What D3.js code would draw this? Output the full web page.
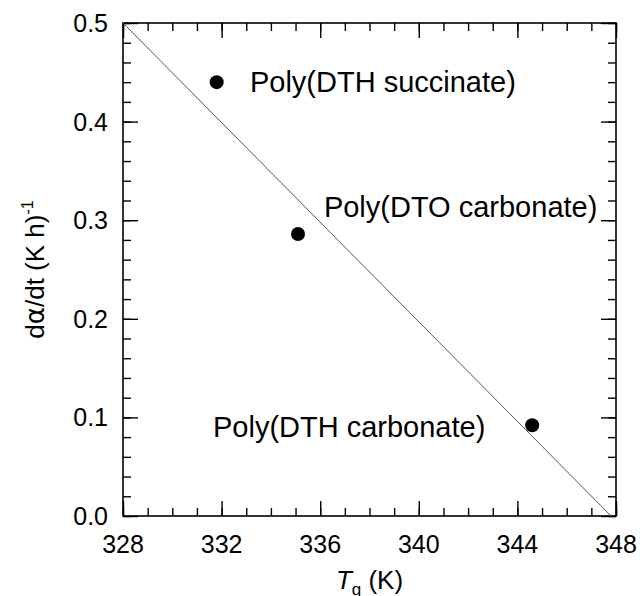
<!DOCTYPE html>
<html>
<head>
<meta charset="utf-8">
<script src="https://cdn.jsdelivr.net/npm/d3@7"></script>
<style>
  html, body { margin: 0; padding: 0; background: #fff; }
  svg { display: block; font-family: "Liberation Sans", Arial, Helvetica, sans-serif; }
</style>
</head>
<body>
<svg id="chart" width="640" height="596"></svg>
<script>
// Measured glass-transition temperatures and ageing rates
const polymers = ["Poly(DTH succinate)", "Poly(DTO carbonate)", "Poly(DTH carbonate)"];
const tg = [331.8, 335.1, 344.6];
const rate = [0.44, 0.286, 0.092];

// Linear trend line end points
const fitTg = [328, 347.8];
const fitRate = [0.5, 0.0];

// Axis ticks
const xMajor = [328, 332, 336, 340, 344, 348];
const xMinor = d3.range(328, 348.5, 1);
const yMajor = [0.0, 0.1, 0.2, 0.3, 0.4, 0.5];
const yMinor = d3.range(0, 0.501, 0.02);

// Label anchors for each polymer (left end of the text baseline, in data units)
const labelTg = [333.15, 336.15, 331.65];
const labelRate = [0.43, 0.303, 0.08];

const svg = d3.select("#chart");
const m = { left: 123, right: 616, top: 23, bottom: 516 };

const x = d3.scaleLinear().domain([328, 348]).range([m.left, m.right]);
const y = d3.scaleLinear().domain([0, 0.5]).range([m.bottom, m.top]);

const majorLen = 15, minorLen = 8;
const axisColor = "#000";

// Tick marks on all four sides, pointing inwards
function ticks(axisGen, transform, values, len) {
  svg.append("g")
    .attr("transform", transform)
    .call(axisGen.tickValues(values).tickSize(len).tickFormat(""))
    .call(g => g.select(".domain").remove())
    .call(g => g.selectAll("line").attr("stroke", axisColor).attr("stroke-width", 1.4));
}
ticks(d3.axisTop(x), `translate(0,${m.bottom})`, xMinor, minorLen);
ticks(d3.axisTop(x), `translate(0,${m.bottom})`, xMajor, majorLen);
ticks(d3.axisBottom(x), `translate(0,${m.top})`, xMinor, minorLen);
ticks(d3.axisBottom(x), `translate(0,${m.top})`, xMajor, majorLen);
ticks(d3.axisRight(y), `translate(${m.left},0)`, yMinor, minorLen);
ticks(d3.axisRight(y), `translate(${m.left},0)`, yMajor, majorLen);
ticks(d3.axisLeft(y), `translate(${m.right},0)`, yMinor, minorLen);
ticks(d3.axisLeft(y), `translate(${m.right},0)`, yMajor, majorLen);

// Tick labels
svg.append("g").selectAll("text")
  .data(xMajor).join("text")
  .attr("x", d => x(d))
  .attr("y", m.bottom + 37)
  .attr("text-anchor", "middle")
  .attr("font-size", 25)
  .text(d => d);

svg.append("g").selectAll("text")
  .data(yMajor).join("text")
  .attr("x", m.left - 15)
  .attr("y", d => y(d) + 9)
  .attr("text-anchor", "end")
  .attr("font-size", 25)
  .text(d => d.toFixed(1));

// Frame
svg.append("rect")
  .attr("x", m.left).attr("y", m.top)
  .attr("width", m.right - m.left).attr("height", m.bottom - m.top)
  .attr("fill", "none").attr("stroke", axisColor).attr("stroke-width", 1.6);

// Trend line
const line = d3.line().x(d => x(d[0])).y(d => y(d[1]));
svg.append("path")
  .datum(d3.zip(fitTg, fitRate))
  .attr("d", line)
  .attr("fill", "none")
  .attr("stroke", "#444")
  .attr("stroke-width", 0.9);

// Data points
svg.append("g").selectAll("circle")
  .data(d3.zip(tg, rate)).join("circle")
  .attr("cx", d => x(d[0]))
  .attr("cy", d => y(d[1]))
  .attr("r", 7)
  .attr("fill", "#000");

// Polymer labels
svg.append("g").selectAll("text")
  .data(polymers).join("text")
  .attr("x", (d, i) => x(labelTg[i]))
  .attr("y", (d, i) => y(labelRate[i]))
  .attr("font-size", 29)
  .text(d => d);

// Axis titles
const xt = svg.append("text")
  .attr("x", (m.left + m.right) / 2)
  .attr("y", 589)
  .attr("text-anchor", "middle")
  .attr("font-size", 26);
xt.append("tspan").attr("font-style", "italic").text("T");
xt.append("tspan").attr("font-size", 17).attr("dy", 6).text("g");
xt.append("tspan").attr("dy", -6).text(" (K)");

const yt = svg.append("text")
  .attr("transform", `translate(44,${(m.top + m.bottom) / 2}) rotate(-90)`)
  .attr("text-anchor", "middle")
  .attr("font-size", 26);
yt.append("tspan").text("d");
yt.append("tspan").attr("font-family", "'DejaVu Sans', sans-serif").text("α");
yt.append("tspan").text("/dt (K h)");
yt.append("tspan").attr("font-size", 16).attr("dy", -11).text("-1");
</script>
</body>
</html>
